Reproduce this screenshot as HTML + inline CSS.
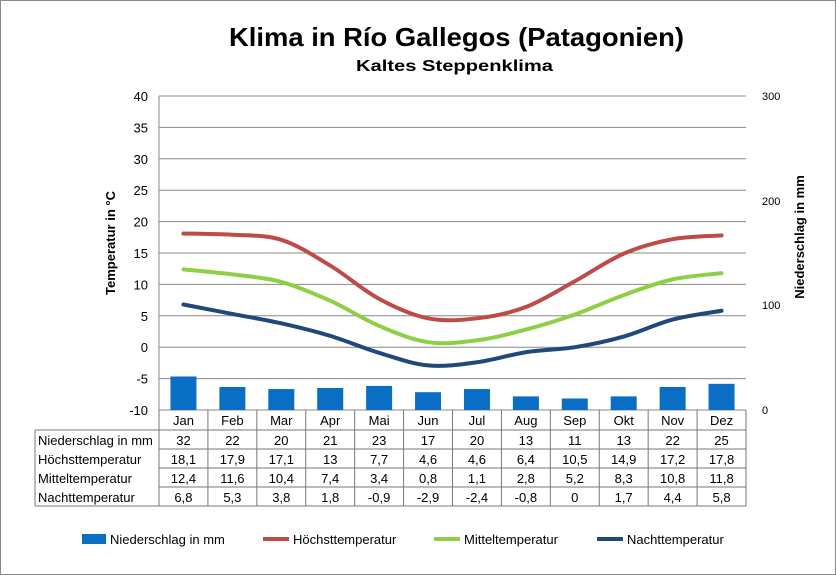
<!DOCTYPE html>
<html><head><meta charset="utf-8"><style>
body{margin:0;background:#fff;}
svg{display:block;font-family:"Liberation Sans",Arial,sans-serif;}
</style></head><body>
<svg id="s" width="836" height="575" viewBox="0 0 836 575" xmlns="http://www.w3.org/2000/svg">
<rect x="0.5" y="0.5" width="835" height="574" fill="#fff" stroke="#888"/>
<text x="229" y="46" font-size="26" font-weight="bold" textLength="455" lengthAdjust="spacingAndGlyphs">Klima in Río Gallegos (Patagonien)</text>
<text x="356" y="71" font-size="16" font-weight="bold" textLength="197" lengthAdjust="spacingAndGlyphs">Kaltes Steppenklima</text>
<g id="grid" stroke="#888" stroke-width="1"></g>
<g id="bars" fill="#0a6ec4"></g>
<g id="lines" fill="none" stroke-width="4" stroke-linecap="round"></g>
<g id="ylab" font-size="13" text-anchor="end"></g>
<g font-size="11" text-anchor="start">
<text x="762" y="100">300</text><text x="762" y="205">200</text><text x="762" y="309">100</text><text x="762" y="414">0</text>
</g>
<text transform="translate(115,243) rotate(-90)" font-size="13" font-weight="bold" text-anchor="middle">Temperatur in °C</text>
<text transform="translate(804,237) rotate(-90)" font-size="13" font-weight="bold" text-anchor="middle">Niederschlag in mm</text>
<g id="table" font-size="13"></g>
<g font-size="13">
<rect x="82" y="534" width="24" height="10" fill="#0a6ec4"/><text x="110" y="544">Niederschlag in mm</text>
<line x1="263" y1="539" x2="289" y2="539" stroke="#be4b48" stroke-width="4"/><text x="293" y="544">Höchsttemperatur</text>
<line x1="434" y1="539" x2="460" y2="539" stroke="#8fcf44" stroke-width="4"/><text x="464" y="544">Mitteltemperatur</text>
<line x1="597" y1="539" x2="623" y2="539" stroke="#1f497d" stroke-width="4"/><text x="627" y="544">Nachttemperatur</text>
</g>
</svg>
<script>
var NS="http://www.w3.org/2000/svg";
function el(p,t,a,txt){var e=document.createElementNS(NS,t);for(var k in a)e.setAttribute(k,a[k]);if(txt!==undefined)e.textContent=txt;document.getElementById(p).appendChild(e);return e;}
var X0=159,X1=746,cw=(X1-X0)/12;
function ty(t){return 410-(t+10)*6.28;}
for(var v=40;v>=-10;v-=5){var y=ty(v);el("grid","line",{x1:X0,x2:X1,y1:y,y2:y});el("ylab","text",{x:148,y:y+5},String(v));}
el("grid","line",{x1:X0,x2:X0,y1:96,y2:506});
var P=[32,22,20,21,23,17,20,13,11,13,22,25];
var H=[18.1,17.9,17.1,13,7.7,4.6,4.6,6.4,10.5,14.9,17.2,17.8];
var M=[12.4,11.6,10.4,7.4,3.4,0.8,1.1,2.8,5.2,8.3,10.8,11.8];
var N=[6.8,5.3,3.8,1.8,-0.9,-2.9,-2.4,-0.8,0,1.7,4.4,5.8];
var mon=["Jan","Feb","Mar","Apr","Mai","Jun","Jul","Aug","Sep","Okt","Nov","Dez"];
function cx(i){return X0+cw*(i+0.5);}
P.forEach(function(p,i){var h=p*1.047;el("bars","rect",{x:cx(i)-13,y:410-h,width:26,height:h});});
function path(d){var pts=d.map(function(v,i){return[cx(i),ty(v)];});var s="M"+pts[0][0]+","+pts[0][1];
for(var i=0;i<pts.length-1;i++){var p0=pts[Math.max(0,i-1)],p1=pts[i],p2=pts[i+1],p3=pts[Math.min(pts.length-1,i+2)];
s+=" C"+(p1[0]+(p2[0]-p0[0])/6)+","+(p1[1]+(p2[1]-p0[1])/6)+" "+(p2[0]-(p3[0]-p1[0])/6)+","+(p2[1]-(p3[1]-p1[1])/6)+" "+p2[0]+","+p2[1];}return s;}
el("lines","path",{d:path(H),stroke:"#be4b48"});
el("lines","path",{d:path(M),stroke:"#8fcf44"});
el("lines","path",{d:path(N),stroke:"#1f497d"});
var rows=[["Niederschlag in mm",P],["Höchsttemperatur",H],["Mitteltemperatur",M],["Nachttemperatur",N]];
var ry=[430,449,468,487,506];
var gs={stroke:"#777","stroke-width":1};
for(var i=0;i<=12;i++){var x=X0+cw*i;el("table","line",Object.assign({x1:x,x2:x,y1:410,y2:506},gs));}
el("table","line",Object.assign({x1:35,x2:35,y1:430,y2:506},gs));
ry.forEach(function(y){el("table","line",Object.assign({x1:(y==430?35:X0),x2:X1,y1:y,y2:y},gs));});
el("table","line",Object.assign({x1:35,x2:X1,y1:430,y2:430},gs));
el("table","line",Object.assign({x1:35,x2:X0,y1:506,y2:506},gs));
mon.forEach(function(m,i){el("table","text",{x:cx(i),y:425,"text-anchor":"middle"},m);});
rows.forEach(function(r,j){var y=ry[j]+15;el("table","text",{x:38,y:y},r[0]);
r[1].forEach(function(v,i){el("table","text",{x:cx(i),y:y,"text-anchor":"middle"},String(v).replace(".",","));});});
</script>
</body></html>
